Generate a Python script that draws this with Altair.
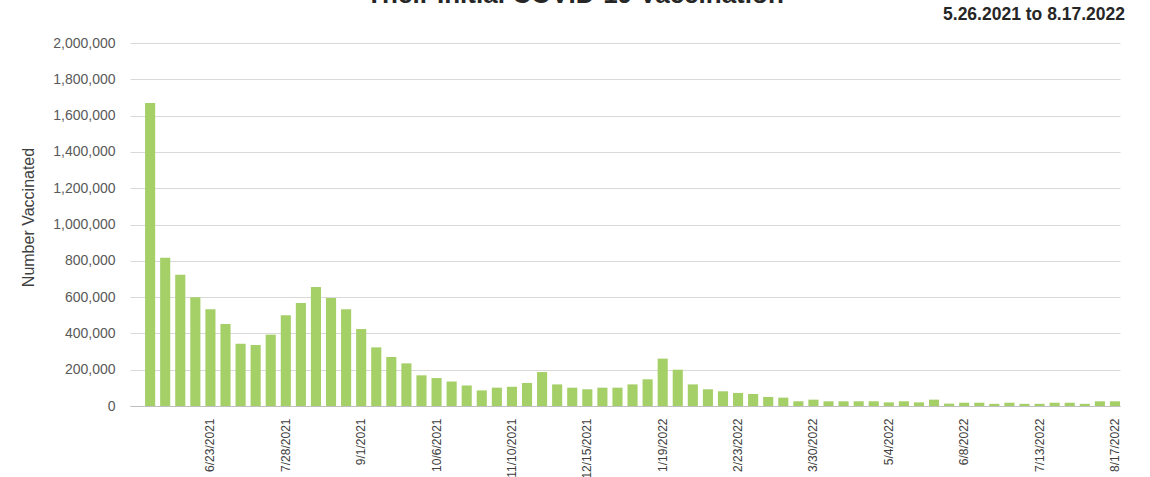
import datetime as dt
import altair as alt
import pandas as pd

# ---- data -------------------------------------------------------------
start = dt.date(2021, 5, 26)
weeks = [start + dt.timedelta(days=7 * k) for k in range(65)]
week_labels = [f"{d.month}/{d.day}/{d.year}" for d in weeks]

vaccinated = [
    1670000, 817000, 723000, 599000, 533000, 452000, 343000, 336000, 393000, 500000,
    567000, 656000, 595000, 533000, 424000, 323000, 270000, 235000, 169000, 154000,
    135000, 113000, 86000, 101000, 106000, 127000, 187000, 119000, 101000, 92000,
    101000, 101000, 119000, 147000, 261000, 200000, 119000, 92000, 81000, 72000,
    66000, 50000, 46000, 26000, 35000, 26000, 26000, 26000, 26000, 20000,
    26000, 20000, 35000, 13000, 18000, 18000, 12000, 18000, 12000, 12000,
    18000, 18000, 12000, 26000, 26000,
]

tick_labels = ["6/23/2021", "7/28/2021", "9/1/2021", "10/6/2021", "11/10/2021",
               "12/15/2021", "1/19/2022", "2/23/2022", "3/30/2022", "5/4/2022",
               "6/8/2022", "7/13/2022", "8/17/2022"]
y_ticks = [0, 200000, 400000, 600000, 800000, 1000000, 1200000, 1400000,
           1600000, 1800000, 2000000]

title_text = "Their Initial COVID-19 Vaccination"
subtitle_text = "5.26.2021 to 8.17.2022"

df = pd.DataFrame({"week": week_labels, "count": vaccinated})
x_domain = [" "] + week_labels  # empty leading category as in the source

FONT = "Liberation Sans"

bars = alt.Chart(df).mark_bar(color="#A5CF67").encode(
    x=alt.X(
        "week:N",
        sort=None,
        scale=alt.Scale(domain=x_domain, paddingInner=0.33, paddingOuter=0),
        axis=alt.Axis(
            title=None, values=tick_labels, labelAngle=-90, labelPadding=12,
            ticks=False, domainColor="#bfbfbf", labelFontSize=12,
            labelColor="#404040", labelFont=FONT, labelOverlap=False,
            grid=False,
        ),
    ),
    y=alt.Y(
        "count:Q",
        scale=alt.Scale(domain=[0, 2000000], nice=False),
        axis=alt.Axis(
            title="Number Vaccinated", values=y_ticks, format=",.0f",
            grid=True, gridColor="#d9d9d9", domain=False, ticks=False,
            labelPadding=15, labelFontSize=14, labelColor="#595959",
            labelFont=FONT, titleFont=FONT, titleFontSize=16,
            titleFontWeight="normal", titleColor="#404040",
            titleX=-94, titleY=174,
        ),
    ),
)

title = alt.Chart(pd.DataFrame({"t": [title_text]})).mark_text(
    font=FONT, fontSize=26, fontWeight="bold", color="#262626",
    align="center", baseline="alphabetic",
).encode(text="t:N", x=alt.value(445), y=alt.value(-40))

subtitle = alt.Chart(pd.DataFrame({"t": [subtitle_text]})).mark_text(
    font=FONT, fontSize=17.5, fontWeight="bold", color="#262626",
    align="right", baseline="alphabetic",
).encode(text="t:N", x=alt.value(995), y=alt.value(-23))

chart = alt.layer(bars, title, subtitle).properties(
    width=990,
    height=363,
    padding={"left": 130, "top": 43, "right": 30, "bottom": 71},
    autosize=alt.AutoSizeParams(type="none"),
    background="white",
).configure_view(stroke=None)

chart.save("out.html", embed_options={"renderer": "svg", "actions": False})
